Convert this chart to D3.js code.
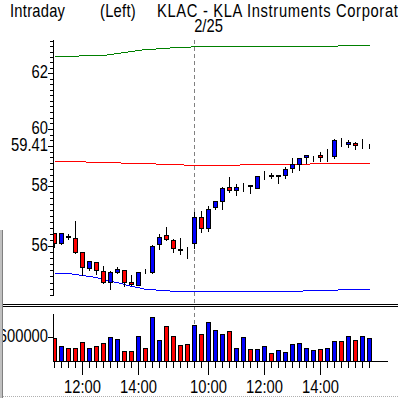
<!DOCTYPE html>
<html>
<head>
<meta charset="utf-8">
<script src="https://cdn.jsdelivr.net/npm/d3@7/dist/d3.min.js"></script>
<style>
  html, body { margin: 0; padding: 0; background: #fff; }
  svg { display: block; }
  text { font-family: "Liberation Sans", Arial, sans-serif; font-size: 18px; fill: #000; }
</style>
</head>
<body>
<div id="chart"></div>
<script>
// 15 minute bars, two sessions (day 1 from 11:00, 2/25 from 9:30)
var day1Times = ["11:00","11:15","11:30","11:45","12:00","12:15","12:30","12:45","13:00","13:15",
                 "13:30","13:45","14:00","14:15","14:30","14:45","15:00","15:15","15:30","15:45"];
var day2Times = ["9:30","9:45","10:00","10:15","10:30","10:45","11:00","11:15","11:30","11:45",
                 "12:00","12:15","12:30","12:45","13:00","13:15","13:30","13:45","14:00","14:15",
                 "14:30","14:45","15:00","15:15","15:30","15:45"];

var open  = [56.42,56.11,56.32,56.26,55.79,55.26,55.46,55.17,54.82,55.16,55.21,54.82,54.73,55.18,55.13,56.06,56.35,56.20,55.89,55.87,
             56.09,56.96,56.58,57.29,57.49,57.97,57.87,58.00,58.05,57.96,58.39,58.40,58.37,58.39,58.63,58.77,59.02,59.07,59.09,59.09,
             59.06,59.51,59.47,59.52,59.40,59.41];
var high  = [56.47,56.46,56.43,56.85,55.80,55.54,55.50,55.37,55.21,55.35,55.24,55.07,55.17,55.26,56.07,56.43,56.67,56.26,56.31,56.01,
             57.15,57.21,57.38,57.51,58.00,58.34,58.13,58.16,58.05,58.40,58.57,58.51,58.38,58.69,59.03,59.01,59.13,59.08,59.23,59.33,
             59.67,59.70,59.64,59.57,59.67,59.50];
var low   = [55.97,56.06,56.23,55.76,55.04,55.21,55.07,54.78,54.60,55.10,54.68,54.71,54.71,55.12,55.12,55.90,56.20,55.81,55.73,55.59,
             55.92,56.45,56.48,57.23,57.23,57.82,57.71,57.85,57.77,57.94,58.25,58.28,58.11,58.28,58.51,58.57,58.80,58.86,58.86,58.88,
             58.98,59.40,59.38,59.31,59.33,59.33];
var close = [56.10,56.43,56.30,55.81,55.31,55.50,55.21,54.81,55.15,55.24,54.81,54.74,55.14,55.17,56.00,56.31,56.22,55.92,55.88,55.86,
             56.96,56.58,57.23,57.51,57.94,57.87,57.97,58.01,58.00,58.36,58.40,58.36,58.38,58.60,58.77,58.98,59.08,59.08,59.01,59.10,
             59.61,59.50,59.53,59.43,59.41,59.41];
var volume = [583000,370000,337000,337000,485000,320000,386000,460000,608000,559000,238000,238000,633000,337000,1101000,534000,879000,633000,411000,436000,
              904000,682000,978000,781000,682000,756000,337000,608000,288000,288000,386000,189000,263000,214000,436000,460000,337000,263000,288000,337000,
              510000,510000,633000,534000,633000,583000];

// band lines: upper (green), middle (red), lower (blue)
var upper  = [62.63,62.63,62.63,62.63,62.66,62.66,62.66,62.68,62.72,62.76,62.80,62.83,62.87,62.89,62.91,62.93,62.95,62.96,62.97,62.98,
              63.00,63.00,63.00,63.00,63.00,63.00,63.00,63.00,63.00,63.00,63.00,63.00,63.00,63.00,63.00,63.00,63.00,63.00,63.00,63.00,
              63.00,63.03,63.03,63.03,63.03,63.03];
var middle = [58.86,58.86,58.86,58.86,58.86,58.83,58.83,58.83,58.83,58.83,58.81,58.81,58.81,58.81,58.81,58.78,58.78,58.78,58.78,58.74,
              58.74,58.74,58.74,58.74,58.74,58.74,58.74,58.77,58.77,58.77,58.77,58.77,58.77,58.77,58.77,58.77,58.77,58.80,58.80,58.80,
              58.80,58.80,58.80,58.80,58.80,58.80];
var lower  = [55.12,55.12,55.11,55.07,55.04,55.01,54.97,54.93,54.86,54.81,54.76,54.70,54.65,54.60,54.59,54.57,54.55,54.54,54.52,54.52,
              54.52,54.52,54.52,54.52,54.52,54.52,54.52,54.52,54.52,54.52,54.52,54.52,54.52,54.52,54.52,54.52,54.55,54.55,54.55,54.55,
              54.55,54.59,54.59,54.59,54.59,54.59];

var priceLabels = [56, 58, 60, 62];
var volumeLabels = [600000];

var times = day1Times.concat(day2Times);
var n = times.length;
var dayBreak = day1Times.length;

var W = 398, H = 398;
var axisX = 53;
var main = { top: 40, bottom: 296 };
var vol = { top: 314, bottom: 361 };
var narrow = 0.82; // squeeze the glyphs to look like the narrow screen font

var svg = d3.select("#chart").append("svg")
    .attr("width", W).attr("height", H);

svg.append("rect").attr("width", W).attr("height", H).attr("fill", "#fff");

// text helper: place at (tx, ty) and squeeze horizontally
function label(sel, tx, ty) {
    return sel.attr("transform", function (d, i) {
        var px = typeof tx === "function" ? tx(d, i) : tx;
        var py = typeof ty === "function" ? ty(d, i) : ty;
        return "translate(" + px + "," + py + ") scale(" + narrow + ",1)";
    });
}

var x = d3.scaleBand()
    .domain(d3.range(n))
    .range([50.8, 372.8])
    .paddingInner(0.38)
    .paddingOuter(0.19);

function cx(i) { return Math.round(x(i) + x.bandwidth() / 2); }

var y = d3.scaleLog().domain([54.37, 63.23]).range([main.bottom, main.top]);
var yv = d3.scaleLinear().domain([0, 1175000]).range([vol.bottom, vol.top]);

function sy(v) { return Math.round(y(v)) + 0.5; }

var defs = svg.append("defs");
defs.append("clipPath").attr("id", "clipMain").append("rect")
    .attr("x", axisX + 1).attr("y", main.top - 4).attr("width", W - axisX).attr("height", main.bottom - main.top + 6);
defs.append("clipPath").attr("id", "clipVol").append("rect")
    .attr("x", axisX + 1).attr("y", vol.top - 4).attr("width", W - axisX).attr("height", vol.bottom - vol.top + 4);

// title
label(svg.append("text").attr("letter-spacing", 0.3), 10, 17).text("Intraday");
label(svg.append("text").attr("letter-spacing", 0.3), 100, 17).text("(Left)");
label(svg.append("text").attr("letter-spacing", 0.8), 157, 17).text("KLAC - KLA Instruments Corporation");
label(svg.append("text").attr("text-anchor", "middle"), 208.5, 32).text("2/25");

// day break
svg.append("line")
    .attr("x1", cx(dayBreak) + 0.5).attr("x2", cx(dayBreak) + 0.5)
    .attr("y1", main.top).attr("y2", vol.bottom)
    .attr("stroke", "#808080").attr("stroke-dasharray", "4,3");

// price panel
var gMain = svg.append("g").attr("clip-path", "url(#clipMain)");

var bands = [
    { values: upper, color: "#008000" },
    { values: middle, color: "#ff0000" },
    { values: lower, color: "#0000ff" }
];
var line = d3.line()
    .x(function (d, i) { return cx(i) + 0.5; })
    .y(function (d) { return sy(d); });

gMain.selectAll("path.band")
    .data(bands)
  .enter().append("path")
    .attr("class", "band")
    .attr("d", function (b) { return line(b.values); })
    .attr("fill", "none")
    .attr("stroke", function (b) { return b.color; })
    .attr("shape-rendering", "crispEdges");

function upColor(i) { return close[i] >= open[i] ? "#0000ff" : "#ff0000"; }

var candle = gMain.selectAll("g.candle")
    .data(d3.range(n))
  .enter().append("g")
    .attr("class", "candle")
    .attr("shape-rendering", "crispEdges");

candle.append("line")
    .attr("x1", function (i) { return cx(i) + 0.5; })
    .attr("x2", function (i) { return cx(i) + 0.5; })
    .attr("y1", function (i) { return sy(high[i]); })
    .attr("y2", function (i) { return sy(low[i]); })
    .attr("stroke", "#000");

candle.append("rect")
    .attr("x", function (i) { return cx(i) - 1.5; })
    .attr("width", 4)
    .attr("y", function (i) { return Math.min(sy(open[i]), sy(close[i])); })
    .attr("height", function (i) { return Math.abs(sy(open[i]) - sy(close[i])); })
    .attr("fill", upColor)
    .attr("stroke", "#000");

// price axis
var gAxis = svg.append("g").attr("shape-rendering", "crispEdges");
gAxis.append("line").attr("x1", axisX + 0.5).attr("x2", axisX + 0.5)
    .attr("y1", main.top).attr("y2", main.bottom).attr("stroke", "#000");

var minor = d3.range(54.4, 63.21, 0.2);
gAxis.selectAll("line.minor")
    .data(minor)
  .enter().append("line")
    .attr("x1", axisX - 3).attr("x2", axisX)
    .attr("y1", function (d) { return sy(d); })
    .attr("y2", function (d) { return sy(d); })
    .attr("stroke", "#000");

var lastClose = close[n - 1];
var labelled = priceLabels.map(function (v) { return { v: v, t: String(v) }; })
    .concat([{ v: lastClose, t: lastClose.toFixed(2) }]);

gAxis.selectAll("line.major")
    .data(labelled)
  .enter().append("line")
    .attr("x1", axisX - 5).attr("x2", axisX)
    .attr("y1", function (d) { return sy(d.v); })
    .attr("y2", function (d) { return sy(d.v); })
    .attr("stroke", "#000");

label(gAxis.selectAll("text")
    .data(labelled)
  .enter().append("text")
    .attr("text-anchor", "end"),
    axisX - 5, function (d) { return y(d.v) + 5; })
    .text(function (d) { return d.t; });

// volume panel
var gVol = svg.append("g").attr("clip-path", "url(#clipVol)").attr("shape-rendering", "crispEdges");
gVol.selectAll("rect")
    .data(d3.range(n))
  .enter().append("rect")
    .attr("x", function (i) { return cx(i) - 1.5; })
    .attr("width", 4)
    .attr("y", function (i) { return Math.round(yv(volume[i])) + 0.5; })
    .attr("height", function (i) { return vol.bottom - Math.round(yv(volume[i])); })
    .attr("fill", upColor)
    .attr("stroke", "#000");

var gVAxis = svg.append("g").attr("shape-rendering", "crispEdges");
gVAxis.append("line").attr("x1", axisX + 0.5).attr("x2", axisX + 0.5)
    .attr("y1", vol.top).attr("y2", vol.bottom).attr("stroke", "#000");
gVAxis.append("line").attr("x1", axisX).attr("x2", 388)
    .attr("y1", vol.bottom + 0.5).attr("y2", vol.bottom + 0.5).attr("stroke", "#000");

gVAxis.selectAll("line.vt")
    .data(volumeLabels)
  .enter().append("line")
    .attr("x1", axisX - 5).attr("x2", axisX)
    .attr("y1", function (d) { return Math.round(yv(d)) + 0.5; })
    .attr("y2", function (d) { return Math.round(yv(d)) + 0.5; })
    .attr("stroke", "#000");
label(gVAxis.selectAll("text.vl")
    .data(volumeLabels)
  .enter().append("text")
    .attr("text-anchor", "end"),
    axisX - 5, function (d) { return yv(d) + 5; })
    .text(function (d) { return d; });

// time axis: a tick per bar, long ticks and labels on even hours
function isMajor(t) {
    var p = t.split(":");
    return p[1] === "00" && (+p[0]) % 2 === 0;
}
gVAxis.selectAll("line.xt")
    .data(d3.range(n))
  .enter().append("line")
    .attr("x1", function (i) { return cx(i) + 0.5; })
    .attr("x2", function (i) { return cx(i) + 0.5; })
    .attr("y1", vol.bottom)
    .attr("y2", function (i) { return vol.bottom + (isMajor(times[i]) ? 14 : 7); })
    .attr("stroke", "#000");

label(gVAxis.selectAll("text.xl")
    .data(d3.range(n).filter(function (i) { return isMajor(times[i]); }))
  .enter().append("text")
    .attr("text-anchor", "middle"),
    function (i) { return cx(i) + 0.5; }, 393)
    .text(function (i) { return times[i].length < 5 ? "0" + times[i] : times[i]; });

// window frame bits, drawn last so they cover the clipped label
svg.append("rect").attr("x", 0).attr("y", 230).attr("width", 2).attr("height", H - 230).attr("fill", "#c0c0c0");
svg.append("line").attr("x1", 2.5).attr("x2", 2.5).attr("y1", 230).attr("y2", H)
    .attr("stroke", "#808080");
svg.append("line").attr("x1", 3).attr("x2", W).attr("y1", 304.5).attr("y2", 304.5).attr("stroke", "#000");
svg.append("line").attr("x1", 3).attr("x2", W).attr("y1", 306.5).attr("y2", 306.5).attr("stroke", "#000");
svg.append("line").attr("x1", 3).attr("x2", W).attr("y1", 396.5).attr("y2", 396.5)
    .attr("stroke", "#b0b0b0").attr("stroke-dasharray", "1,1");
</script>
</body>
</html>
